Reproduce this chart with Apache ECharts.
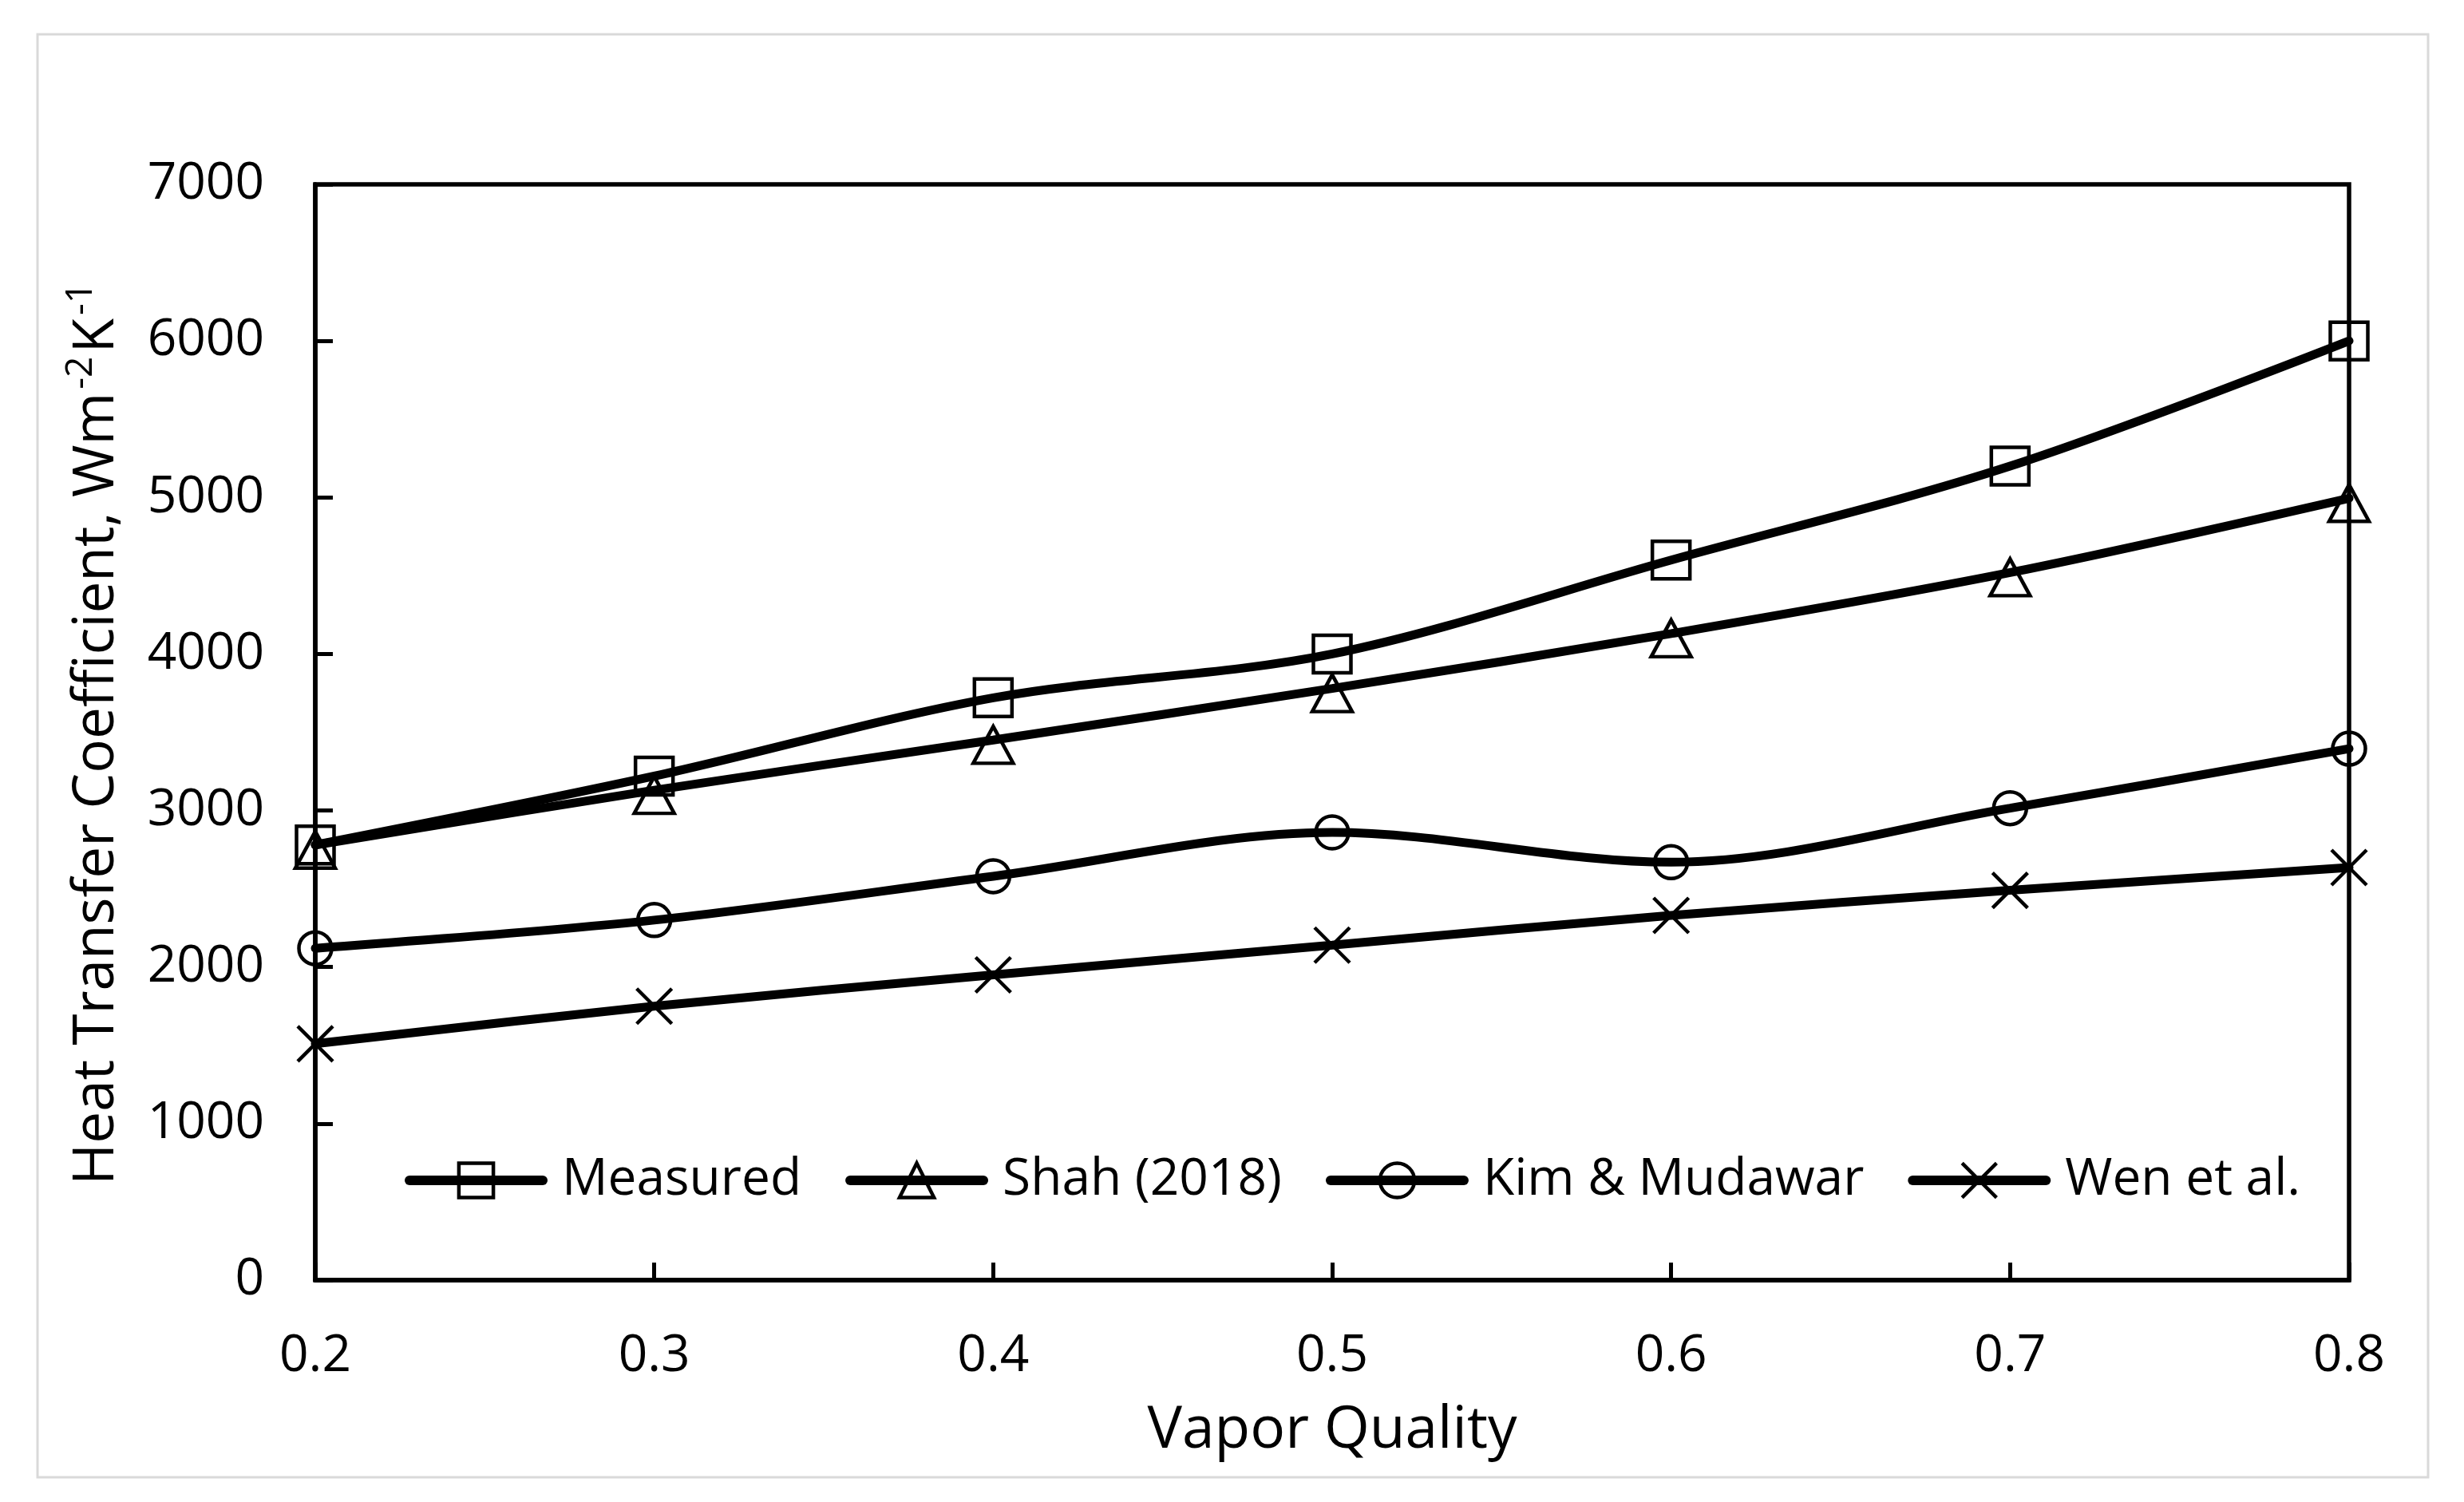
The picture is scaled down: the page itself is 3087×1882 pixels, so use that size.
<!DOCTYPE html>
<html>
<head>
<meta charset="utf-8">
<script src="https://cdn.jsdelivr.net/npm/echarts@6/dist/echarts.min.js"></script>
<style>
html,body{margin:0;padding:0;background:#fff;}
#chart{width:3087px;height:1882px;}
</style>
</head>
<body>
<div id="chart"></div>
<script>
const xValues = [0.2, 0.3, 0.4, 0.5, 0.6, 0.7, 0.8];
const measured = [2780, 3220, 3720, 4000, 4600, 5200, 6000];
const shah2018 = [2780, 3130, 3450, 3780, 4130, 4520, 4995];
const kimMudawar = [2120, 2300, 2580, 2860, 2670, 3015, 3395];
const wenEtAl = [1510, 1750, 1950, 2140, 2330, 2490, 2636];
const seriesNames = ['Measured', 'Shah (2018)', 'Kim & Mudawar', 'Wen et al.'];
const yTicks = [0, 1000, 2000, 3000, 4000, 5000, 6000, 7000];

const FONT = 'Open Sans';
const pairs = arr => xValues.map((x, i) => [x, arr[i]]);

function mkSeries(name, data, symbol, size, offset) {
  return {
    name: name,
    type: 'line',
    data: pairs(data),
    smooth: 0.33,
    clip: false,
    symbol: symbol,
    symbolSize: size,
    symbolOffset: offset || [0, 0],
    showSymbol: true,
    lineStyle: { color: '#000', width: 11, cap: 'round' },
    itemStyle: { color: 'rgba(0,0,0,0)', borderColor: '#000', borderWidth: 4.5 },
    emphasis: { disabled: true }
  };
}

const chart = echarts.init(document.getElementById('chart'), null, { renderer: 'canvas' });
chart.setOption({
  backgroundColor: '#fff',
  animation: false,
  textStyle: { fontFamily: FONT, color: '#000' },
  graphic: [{
    type: 'rect',
    shape: { x: 47, y: 43, width: 2995, height: 1808 },
    style: { fill: 'none', stroke: '#d9d9d9', lineWidth: 3 },
    silent: true
  }],
  grid: {
    left: 395, right: 144, top: 231, bottom: 278,
    show: true, borderColor: '#000', borderWidth: 5.5, backgroundColor: 'transparent'
  },
  legend: {
    data: seriesNames,
    left: 502, top: 1442,
    itemWidth: 167, itemHeight: 54, itemGap: 55,
    lineStyle: { color: '#000', width: 12, cap: 'round' },
    itemStyle: { color: 'rgba(0,0,0,0)', borderColor: '#000', borderWidth: 4.5 },
    textStyle: { fontFamily: FONT, fontSize: 64, color: '#000', padding: [0, 0, 0, 19] },
    selectedMode: false
  },
  xAxis: {
    type: 'value',
    min: 0.2, max: 0.8, interval: 0.1,
    name: 'Vapor Quality',
    nameLocation: 'middle',
    nameGap: 153,
    nameTextStyle: { fontFamily: FONT, fontSize: 73, color: '#000' },
    axisLine: { show: true, onZero: false, lineStyle: { color: '#000', width: 5.5 } },
    axisTick: { show: true, inside: true, length: 22, lineStyle: { color: '#000', width: 5 } },
    axisLabel: { fontFamily: FONT, fontSize: 64, color: '#000', margin: 64,
      formatter: v => v.toFixed(1) },
    splitLine: { show: false }
  },
  yAxis: {
    type: 'value',
    min: yTicks[0], max: yTicks[yTicks.length - 1], interval: 1000,
    name: '{a|Heat Transfer Coefficient, Wm}{s|-2}{a|K}{s|-1}',
    nameLocation: 'middle',
    nameGap: 238,
    nameRotate: 90,
    nameTextStyle: {
      fontFamily: FONT, fontSize: 71, color: '#000',
      rich: {
        a: { fontFamily: FONT, fontSize: 71, color: '#000', lineHeight: 82, verticalAlign: 'bottom' },
        s: { fontFamily: FONT, fontSize: 46, color: '#000', lineHeight: 82, verticalAlign: 'top', padding: [4, 4, 0, 4] }
      }
    },
    axisLine: { show: true, lineStyle: { color: '#000', width: 5.5 } },
    axisTick: { show: true, inside: true, length: 22, lineStyle: { color: '#000', width: 5 } },
    axisLabel: { fontFamily: FONT, fontSize: 64, color: '#000', margin: 64,
      formatter: v => String(v) },
    splitLine: { show: false }
  },
  series: [
    mkSeries(seriesNames[0], measured, 'rect', 47),
    mkSeries(seriesNames[1], shah2018, 'triangle', [50, 46], [0, 6]),
    mkSeries(seriesNames[2], kimMudawar, 'circle', 41),
    mkSeries(seriesNames[3], wenEtAl, 'path://M0,0L10,10M10,0L0,10', 44)
  ]
});
</script>
</body>
</html>
